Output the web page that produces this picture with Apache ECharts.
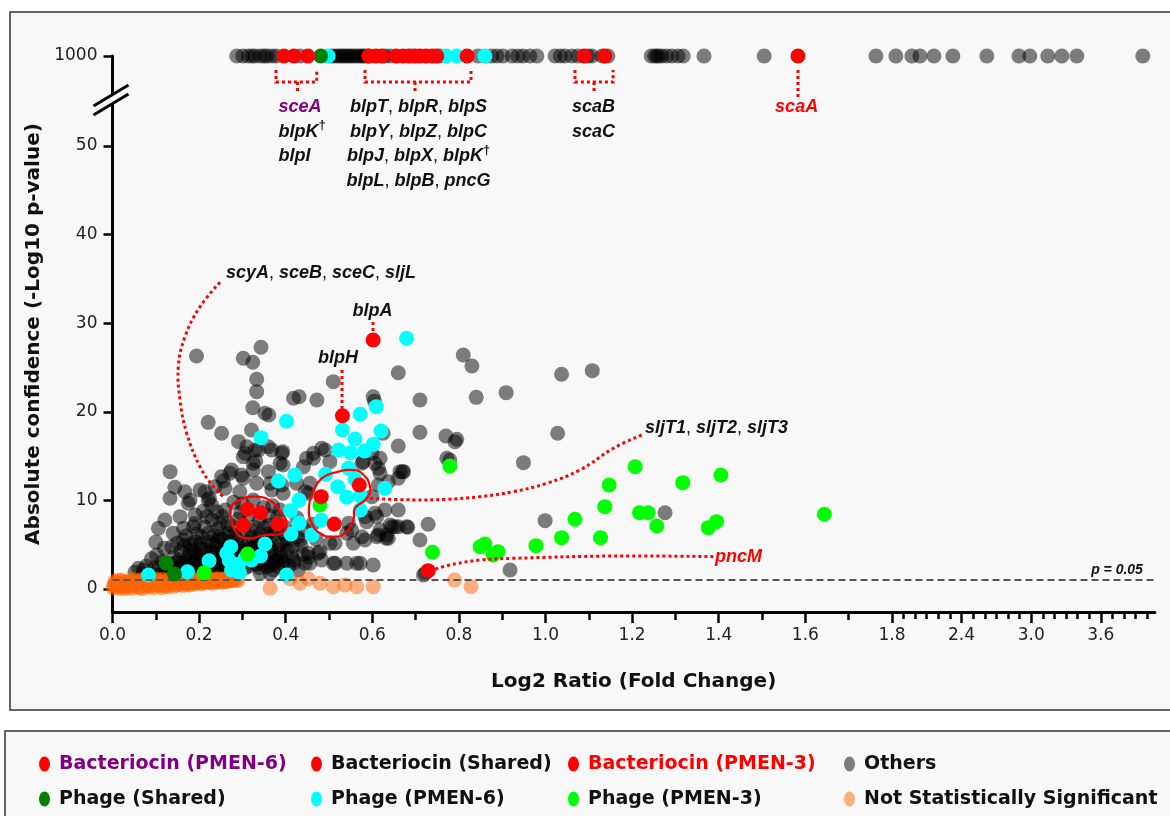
<!DOCTYPE html>
<html>
<head>
<meta charset="utf-8">
<title>Fold change vs confidence</title>
<script src="https://cdn.jsdelivr.net/npm/echarts@6/dist/echarts.min.js"></script>
<style>
  html, body { margin: 0; padding: 0; background: #fff; }
  #main { width: 1170px; height: 816px; }
</style>
</head>
<body>
<div id="main"></div>
<script>
// ---- tick labels ----
var xMajorTicks = [0, 0.2, 0.4, 0.6, 0.8, 1.0, 1.2, 1.4, 1.6, 1.8, 2.4, 3.0, 3.6];
var xMinorTicks = [0.1, 0.3, 0.5, 0.7, 0.9, 1.1, 1.3, 1.5, 1.7];
var xTailTicks = [1.9, 2.0, 2.1, 2.2, 2.3, 2.5, 2.6, 2.7, 2.8, 2.9, 3.1, 3.2, 3.3, 3.4, 3.5, 3.7, 3.8, 3.9, 4.0];
var yTicks = [0, 10, 20, 30, 40, 50, 1000];

// ---- series values: [log2 ratio, -log10 p] (1000 = saturated) ----
var bacPmen6 = [[0.396, 1000]];
var bacShared = [
  [0.419, 1000], [0.451, 1000], [0.592, 1000], [0.608, 1000], [0.622, 1000], [0.655, 1000],
  [0.671, 1000], [0.684, 1000], [0.699, 1000], [0.710, 1000], [0.724, 1000], [0.738, 1000],
  [0.749, 1000], [0.819, 1000], [1.089, 1000], [1.137, 1000],
  [0.602, 28.1], [0.531, 19.56], [0.312, 9.0], [0.342, 8.61], [0.302, 7.19], [0.382, 7.34],
  [0.482, 10.42], [0.570, 11.74], [0.512, 7.34]
];
var bacPmen3 = [[1.583, 1000], [0.729, 2.07]];
var phageShared = [[0.481, 1000], [0.124, 2.9], [0.143, 1.69]];
var phagePmen6 = [
  [0.498, 1000], [0.687, 1000], [0.770, 1000], [0.795, 1000], [0.860, 1000],
  [0.679, 28.3], [0.609, 20.58], [0.572, 19.72], [0.402, 18.93], [0.531, 17.95], [0.620, 17.83],
  [0.560, 16.93], [0.343, 17.08], [0.522, 15.69], [0.550, 15.38], [0.582, 15.58], [0.602, 16.33],
  [0.492, 12.95], [0.421, 12.87], [0.383, 12.19], [0.520, 11.55], [0.541, 10.35], [0.572, 10.5],
  [0.629, 11.37], [0.560, 12.38], [0.545, 13.62], [0.411, 8.84], [0.431, 10.05], [0.431, 7.42],
  [0.482, 7.79], [0.572, 8.92], [0.412, 6.21], [0.461, 6.09], [0.352, 5.08], [0.273, 4.77],
  [0.270, 3.19], [0.291, 2.79], [0.342, 3.72], [0.293, 1.84], [0.223, 3.19], [0.173, 1.95],
  [0.083, 1.58], [0.402, 1.58], [0.275, 2.14], [0.264, 4.03], [0.321, 3.27], [0.306, 3.46]
];
var phagePmen3 = [
  [0.779, 13.88], [1.207, 13.8], [1.405, 12.87], [1.317, 12.0], [1.147, 11.74], [1.137, 9.29],
  [1.068, 7.87], [1.217, 8.61], [1.237, 8.61], [1.257, 7.11], [1.395, 7.6], [1.376, 6.92],
  [1.644, 8.43], [1.037, 5.79], [1.127, 5.79], [0.978, 4.89], [0.849, 4.77], [0.860, 5.08],
  [0.879, 3.84], [0.890, 4.21], [0.739, 4.14], [0.479, 9.48], [0.212, 1.84], [0.312, 3.95]
];
var othersTopX = [
  0.287, 0.301, 0.313, 0.322, 0.329, 0.341, 0.350, 0.357, 0.368, 0.378, 0.433, 0.507, 0.515,
  0.521, 0.527, 0.532, 0.538, 0.544, 0.549, 0.555, 0.561, 0.567, 0.573, 0.578, 0.584, 0.590,
  0.629, 0.641, 0.692, 0.756, 0.844, 0.876, 0.888, 0.902, 0.923, 0.936, 0.948, 0.964, 0.980,
  1.022, 1.034, 1.045, 1.061, 1.075, 1.098, 1.107, 1.131, 1.144, 1.244, 1.252, 1.257, 1.262,
  1.269, 1.280, 1.292, 1.306, 1.318, 1.366, 1.505, 1.763, 1.834, 1.972, 2.041, 2.162, 2.325,
  2.618, 2.894, 2.988, 3.143, 3.264, 3.393, 3.962
];
var others = [
  [0.810, 26.41], [0.830, 25.17], [0.660, 24.41], [1.037, 24.23], [1.108, 24.64], [0.710, 21.33],
  [0.840, 21.63], [0.909, 22.16], [0.710, 17.68], [0.770, 17.27], [0.791, 16.63], [0.795, 16.9],
  [1.028, 17.57], [0.660, 16.14], [0.779, 14.56], [0.949, 14.26], [0.670, 13.24], [0.660, 12.49],
  [0.618, 13.06], [0.660, 8.92], [0.641, 7.22], [0.660, 7.03], [0.682, 6.96], [0.729, 7.30],
  [0.632, 5.72], [0.999, 7.71], [1.276, 8.61], [0.918, 2.14], [0.718, 1.58], [0.625, 17.57],
  [0.194, 26.3], [0.302, 26.04], [0.324, 25.59], [0.343, 27.28], [0.333, 23.67], [0.333, 22.27],
  [0.418, 21.52], [0.431, 21.7], [0.472, 21.33], [0.510, 23.4], [0.602, 21.7], [0.605, 21.2],
  [0.324, 20.46], [0.352, 19.83], [0.361, 19.64], [0.221, 18.81], [0.252, 17.57], [0.291, 16.63],
  [0.310, 16.06], [0.337, 15.69], [0.368, 15.69], [0.393, 15.5], [0.387, 14.19], [0.331, 14.45],
  [0.302, 14.93], [0.325, 13.43], [0.275, 13.43], [0.302, 12.49], [0.256, 12.19], [0.133, 13.24],
  [0.144, 11.48], [0.133, 10.24], [0.175, 9.67], [0.202, 11.17], [0.224, 10.24], [0.237, 11.55],
  [0.106, 6.85], [0.121, 7.79], [0.156, 8.16], [0.164, 6.85], [0.187, 7.03], [0.218, 8.16],
  [0.248, 7.42], [0.206, 5.9], [0.248, 5.9], [0.267, 6.29], [0.102, 3.84], [0.137, 4.77],
  [0.164, 5.53], [0.071, 2.14], [0.394, 6.29], [0.402, 5.16], [0.433, 5.53], [0.387, 4.03],
  [0.364, 2.9], [0.371, 2.14], [0.341, 1.77], [0.479, 4.21], [0.502, 5.16], [0.510, 2.9],
  [0.456, 2.9], [0.564, 2.9], [0.602, 2.71], [0.556, 5.16], [0.576, 5.9], [0.610, 5.9],
  [0.633, 6.09], [0.541, 6.29], [0.545, 7.42], [0.587, 7.6], [0.618, 6.66], [0.645, 7.03],
  [0.664, 13.24], [0.637, 12.11], [0.614, 13.62], [0.618, 14.75], [0.579, 14.37], [0.502, 14.37],
  [0.483, 15.88], [0.464, 14.75], [0.441, 13.8], [0.425, 11.93], [0.452, 10.8], [0.394, 10.8],
  [0.364, 11.93], [0.325, 10.05], [0.387, 8.92], [0.241, 8.72], [0.629, 8.92], [0.610, 8.16],
  [0.679, 7.03], [0.710, 5.53], [0.772, 14.75], [0.722, 1.77],
  [0.060, 2.34], [0.167, 10.98], [0.179, 10.05], [0.214, 10.98], [0.229, 9.48], [0.191, 8.35],
  [0.321, 17.95], [0.306, 15.32], [0.329, 15.69], [0.360, 16.06], [0.391, 15.32], [0.394, 14.0],
  [0.360, 13.24], [0.325, 14.19], [0.298, 12.87], [0.271, 13.06], [0.252, 12.68], [0.333, 11.93],
  [0.294, 10.98], [0.260, 11.37], [0.221, 10.05], [0.368, 11.17], [0.391, 11.74], [0.448, 14.75],
  [0.464, 15.32], [0.491, 15.69], [0.456, 11.93], [0.445, 10.98], [0.672, 13.24], [0.652, 7.03],
  [0.606, 8.54], [0.614, 6.09], [0.637, 5.72], [0.583, 5.53], [0.572, 2.9], [0.541, 2.9],
  [0.514, 2.9], [0.483, 3.27], [0.452, 4.03], [0.514, 5.16], [0.552, 6.66], [0.583, 8.16],
  [0.599, 10.42], [0.614, 11.74], [0.576, 14.19], [0.606, 14.19], [0.599, 15.32], [0.429, 2.14],
  [0.445, 2.9], [0.475, 4.03], [0.383, 2.52], [0.364, 1.77], [0.414, 3.65],
  [0.052, 1.9], [0.078, 2.6], [0.094, 1.7], [0.108, 2.4], [0.115, 3.1], [0.126, 1.9], [0.134, 2.8],
  [0.142, 3.6], [0.151, 2.2], [0.158, 4.3], [0.163, 3.0], [0.171, 1.8], [0.176, 3.7], [0.182, 2.5],
  [0.186, 4.6], [0.193, 3.2], [0.198, 2.0], [0.203, 5.1], [0.207, 3.8], [0.212, 2.6], [0.216, 4.4],
  [0.222, 6.3], [0.226, 3.1], [0.231, 5.0], [0.236, 2.2], [0.239, 4.1], [0.244, 6.8], [0.248, 3.5],
  [0.252, 5.6], [0.257, 2.7], [0.261, 4.6], [0.265, 7.4], [0.268, 3.3], [0.273, 5.3], [0.277, 2.1],
  [0.282, 6.1], [0.286, 4.1], [0.291, 7.9], [0.294, 3.0], [0.298, 5.1], [0.303, 6.6], [0.307, 2.4],
  [0.311, 4.4], [0.316, 8.4], [0.319, 3.4], [0.323, 5.8], [0.328, 7.0], [0.332, 2.8], [0.336, 4.8],
  [0.341, 6.2], [0.345, 3.6], [0.349, 9.2], [0.353, 5.4], [0.357, 2.5], [0.361, 7.2], [0.366, 4.2],
  [0.371, 6.0], [0.376, 3.2], [0.381, 8.1], [0.386, 5.0], [0.392, 2.7], [0.398, 7.0], [0.404, 4.4],
  [0.412, 6.2], [0.418, 3.3], [0.426, 8.0], [0.435, 4.9], [0.443, 6.7], [0.452, 3.6], [0.462, 7.3],
  [0.470, 5.6], [0.150, 5.2], [0.170, 6.0], [0.190, 7.4], [0.210, 8.8], [0.180, 5.0], [0.230, 7.8],
  [0.260, 8.9], [0.280, 9.8], [0.300, 9.6], [0.270, 5.9], [0.290, 2.6], [0.310, 3.5], [0.330, 4.9],
  [0.350, 6.9], [0.370, 9.4], [0.120, 4.6], [0.140, 6.3], [0.100, 5.3], [0.090, 3.4], [0.070, 1.6],
  [0.240, 1.6], [0.260, 2.0], [0.210, 1.6], [0.190, 2.9], [0.160, 1.6], [0.130, 1.5], [0.110, 1.6],
  [0.145, 2.4], [0.168, 2.7], [0.188, 3.9], [0.201, 2.9], [0.218, 3.4], [0.229, 4.2], [0.243, 2.9],
  [0.255, 3.8], [0.271, 4.5], [0.284, 3.5], [0.296, 4.6], [0.313, 5.3], [0.327, 3.9], [0.339, 2.4],
  [0.347, 4.4], [0.358, 3.5], [0.368, 5.1], [0.378, 6.6], [0.389, 3.6], [0.401, 5.6], [0.415, 4.8],
  [0.428, 5.9], [0.440, 3.9], [0.195, 6.2], [0.213, 7.0], [0.235, 6.0], [0.253, 8.2], [0.275, 7.1],
  [0.296, 8.6], [0.318, 6.6], [0.339, 7.8], [0.360, 8.3], [0.155, 3.3], [0.122, 2.6], [0.098, 2.4],
  [0.138, 2.1], [0.147, 3.0], [0.161, 2.4], [0.174, 3.2], [0.184, 2.1], [0.196, 3.6], [0.205, 2.3],
  [0.215, 3.0], [0.224, 2.5], [0.233, 3.6], [0.246, 2.4], [0.259, 3.2], [0.263, 2.3], [0.279, 2.8],
  [0.288, 3.3], [0.301, 2.9], [0.315, 2.6], [0.329, 3.1], [0.344, 2.9], [0.355, 3.1], [0.367, 2.7],
  [0.381, 3.3], [0.395, 3.0], [0.408, 2.6], [0.421, 3.0], [0.205, 4.5], [0.221, 5.3], [0.238, 5.1],
  [0.256, 4.3], [0.279, 4.8], [0.301, 4.0], [0.321, 4.6], [0.343, 5.0], [0.362, 4.7], [0.384, 4.4],
  [0.179, 4.3], [0.192, 5.3], [0.166, 4.9], [0.243, 5.4], [0.289, 5.6], [0.334, 5.6], [0.357, 6.2]
];
var notSig = [
  [0.002, 0.1], [0.004, 0.5], [0.006, 0.9], [0.010, 0.25], [0.013, 0.65], [0.017, 0.05],
  [0.020, 1.0], [0.024, 0.4], [0.028, 0.12], [0.031, 0.75], [0.035, 0.3], [0.039, 0.95],
  [0.042, 0.55], [0.046, 0.08], [0.050, 0.35], [0.054, 0.8], [0.058, 0.2], [0.062, 0.6],
  [0.066, 1.0], [0.070, 0.05], [0.074, 0.45], [0.078, 0.75], [0.082, 0.25], [0.086, 0.9],
  [0.090, 0.5], [0.094, 0.15], [0.098, 0.7], [0.102, 1.0], [0.106, 0.35], [0.110, 0.6],
  [0.114, 0.15], [0.118, 0.85], [0.122, 0.4], [0.126, 0.75], [0.130, 0.25], [0.134, 0.95],
  [0.138, 0.55], [0.142, 0.3], [0.146, 0.8], [0.150, 0.45], [0.154, 1.0], [0.158, 0.65],
  [0.162, 0.4], [0.166, 0.9], [0.170, 0.6], [0.174, 0.8], [0.178, 0.45], [0.182, 1.0],
  [0.186, 0.7], [0.190, 0.55], [0.194, 0.85], [0.198, 0.7], [0.202, 0.95], [0.206, 0.6],
  [0.210, 0.85], [0.214, 0.7], [0.218, 1.0], [0.222, 0.75], [0.226, 0.9], [0.230, 0.65],
  [0.234, 1.0], [0.238, 0.8], [0.242, 0.95], [0.246, 0.75], [0.250, 1.0], [0.254, 0.85],
  [0.258, 0.8], [0.262, 0.95], [0.266, 0.85], [0.270, 1.0], [0.276, 0.9], [0.282, 1.0],
  [0.290, 0.95],
  [0.003, 0.3], [0.008, 0.75], [0.012, 0.45], [0.015, 0.95], [0.019, 0.2], [0.022, 0.7],
  [0.026, 0.85], [0.030, 0.5], [0.033, 0.1], [0.037, 0.6], [0.041, 0.85], [0.044, 0.3],
  [0.048, 1.1], [0.052, 0.65], [0.056, 0.4], [0.060, 0.9], [0.064, 0.15], [0.068, 0.7],
  [0.072, 1.1], [0.076, 0.3], [0.080, 0.6], [0.084, 1.0], [0.088, 0.35], [0.092, 0.8],
  [0.096, 0.45], [0.100, 1.15], [0.104, 0.6], [0.108, 0.9], [0.112, 0.4], [0.116, 1.1],
  [0.120, 0.7], [0.124, 0.3], [0.128, 1.05], [0.132, 0.6], [0.136, 0.8], [0.140, 1.1],
  [0.144, 0.5], [0.148, 0.95], [0.152, 0.7], [0.156, 1.15], [0.160, 0.55], [0.164, 0.75],
  [0.168, 1.1], [0.172, 0.5], [0.176, 1.0], [0.180, 0.7], [0.184, 0.9], [0.188, 1.15],
  [0.192, 0.75], [0.196, 1.0], [0.200, 0.8], [0.204, 1.1], [0.208, 0.9], [0.212, 1.15],
  [0.216, 0.85], [0.220, 0.95], [0.224, 1.15], [0.228, 0.8], [0.232, 0.95], [0.236, 1.1],
  [0.240, 0.9], [0.244, 1.15], [0.248, 0.9], [0.252, 1.1], [0.256, 0.95], [0.260, 1.15],
  [0.264, 0.9], [0.268, 1.1], [0.272, 0.95], [0.279, 1.15], [0.286, 1.0],
  [0.790, 1.0], [0.828, 0.26], [0.364, 0.08], [0.452, 1.15], [0.537, 0.45], [0.564, 0.26],
  [0.602, 0.26], [0.410, 1.15], [0.433, 0.64], [0.479, 0.64], [0.510, 0.26]
];

// ---- scale helpers: x axis is compressed past 1.8, y axis is broken above 50 ----
var X_BREAK = 1.8, X_SQUEEZE = 0.268, Y_TOP = 60.16;
function tx(x) { return x <= X_BREAK ? x : X_BREAK + (x - X_BREAK) * X_SQUEEZE; }
function untx(t) { return t <= X_BREAK + 1e-9 ? t : X_BREAK + (t - X_BREAK) / X_SQUEEZE; }
function ty(y) { return y >= 1000 ? Y_TOP : y; }
function pts(arr) { return arr.map(function (p) { return [tx(p[0]), ty(p[1])]; }); }

var XMAX = tx(4.066);
var BG = '#f8f8f8';

function dots(name, arr, color, z) {
  return {
    name: name, type: 'scatter', data: pts(arr), symbolSize: 15,
    itemStyle: { color: color, opacity: 1 }, z: z, clip: false, silent: true
  };
}

var ellipse = 'path://M0,7.5A5.5,7.5,0,1,1,11,7.5A5.5,7.5,0,1,1,0,7.5Z';
function legendCol(left, items) {
  return {
    left: left, top: 748, orient: 'vertical', itemGap: 13, icon: ellipse,
    itemWidth: 11, itemHeight: 15, selectedMode: false, data: items,
    textStyle: {
      fontFamily: 'DejaVu Sans', fontWeight: 'bold', fontSize: 19, color: '#111',
      padding: [0, 0, 0, 4], lineHeight: 22
    }
  };
}

var chart = echarts.init(document.getElementById('main'));

var tickLine = { color: '#000', width: 2.5 };
var option = {
  backgroundColor: '#ffffff',
  animation: false,
  grid: { left: 112.5, right: 15.1, top: 56, bottom: 204 },
  xAxis: [
    {
      type: 'value', min: 0, max: XMAX, position: 'bottom',
      axisLine: { onZero: false, lineStyle: { color: '#000', width: 3 } },
      axisTick: { customValues: xMajorTicks.map(tx), length: 11, lineStyle: tickLine },
      axisLabel: {
        customValues: xMajorTicks.map(tx),
        formatter: function (v) { return untx(v).toFixed(1); },
        fontFamily: 'DejaVu Sans', fontSize: 17, color: '#222', margin: 15
      },
      splitLine: { show: false },
      name: 'Log2 Ratio (Fold Change)', nameLocation: 'middle', nameGap: 60,
      nameTextStyle: { fontFamily: 'DejaVu Sans', fontWeight: 'bold', fontSize: 20, color: '#111' }
    },
    {
      type: 'value', min: 0, max: XMAX, position: 'bottom',
      axisLine: { show: false, onZero: false },
      axisTick: { customValues: xMinorTicks.map(tx), length: 8, lineStyle: tickLine },
      axisLabel: { show: false }, splitLine: { show: false }
    },
    {
      type: 'value', min: 0, max: XMAX, position: 'bottom',
      axisLine: { show: false, onZero: false },
      axisTick: { customValues: xTailTicks.map(tx), length: 7, lineStyle: tickLine },
      axisLabel: { show: false }, splitLine: { show: false }
    }
  ],
  yAxis: {
    type: 'value', min: -2.6, max: Y_TOP,
    axisLine: { show: true, onZero: false, lineStyle: { color: '#000', width: 3 } },
    axisTick: { show: true, customValues: yTicks.map(ty), length: 9, lineStyle: tickLine },
    axisLabel: {
      customValues: yTicks.map(ty),
      formatter: function (v) { return v > 55 ? '1000' : String(Math.round(v)); },
      fontFamily: 'DejaVu Sans', fontSize: 17, color: '#222', margin: 15
    },
    splitLine: { show: false },
    name: 'Absolute confidence (-Log10 p-value)', nameLocation: 'middle', nameGap: 41,
    nameTextStyle: { fontFamily: 'DejaVu Sans', fontWeight: 'bold', fontSize: 20, color: '#111' }
  },
  legend: [
    legendCol(34, [{ name: 'Bacteriocin (PMEN-6)', textStyle: { color: '#800080' } }, 'Phage (Shared)']),
    legendCol(306, ['Bacteriocin (Shared)', 'Phage (PMEN-6)']),
    legendCol(563, [{ name: 'Bacteriocin (PMEN-3)', textStyle: { color: '#ff0000' } }, 'Phage (PMEN-3)']),
    legendCol(839, ['Others', 'Not Statistically Significant'])
  ],
  series: [
    dots('Others', others.concat(othersTopX.map(function (x) { return [x, 1000]; })), 'rgba(0,0,0,0.5)', 2),
    dots('Not Statistically Significant', notSig, 'rgba(255,102,0,0.5)', 3),
    {
      name: 'threshold', type: 'line', data: [], z: 3.5, silent: true,
      markLine: {
        silent: true, symbol: 'none', animation: false,
        lineStyle: { color: '#555', type: [7, 4], width: 2 },
        label: {
          show: true, position: 'insideEndTop', formatter: 'p = 0.05', distance: [12, 3],
          fontFamily: 'Liberation Sans', fontWeight: 'bold', fontStyle: 'italic', fontSize: 14, color: '#111'
        },
        data: [{ yAxis: 1.0 }]
      }
    },
    dots('Phage (PMEN-6)', phagePmen6, '#00ffff', 4),
    dots('Phage (PMEN-3)', phagePmen3, '#00ff00', 5),
    dots('Phage (Shared)', phageShared, '#008000', 6),
    dots('Bacteriocin (Shared)', bacShared, '#ff0000', 7),
    dots('Bacteriocin (PMEN-6)', bacPmen6, '#ff0000', 7),
    dots('Bacteriocin (PMEN-3)', bacPmen3, '#ff0000', 7)
  ]
};
chart.setOption(option);

// ---- annotations, placed in axis units ----
function px(p) { return chart.convertToPixel({ gridIndex: 0 }, p); }

var font = 'Liberation Sans';
var rich = {
  g: { fontFamily: font, fontSize: 18, fontWeight: 'bold', fontStyle: 'italic', fill: '#111', lineHeight: 24.5 },
  c: { fontFamily: font, fontSize: 18, fill: '#111', lineHeight: 24.5 },
  p: { fontFamily: font, fontSize: 18, fontWeight: 'bold', fontStyle: 'italic', fill: '#800080', lineHeight: 24.5 },
  r: { fontFamily: font, fontSize: 18, fontWeight: 'bold', fontStyle: 'italic', fill: '#ff0000', lineHeight: 24.5 },
  d: { fontFamily: font, fontSize: 13, fontWeight: 'bold', fill: '#111', verticalAlign: 'top' }
};

var notes = [
  { at: [0.3834, 55.78], align: 'left', va: 'top', text: '{p|sceA}\n{g|blpK}{d|†}\n{g|blpI}' },
  { at: [0.7067, 55.78], align: 'center', va: 'top',
    text: '{g|blpT}{c|, }{g|blpR}{c|, }{g|blpS}\n{g|blpY}{c|, }{g|blpZ}{c|, }{g|blpC}\n{g|blpJ}{c|, }{g|blpX}{c|, }{g|blpK}{d|†}\n{g|blpL}{c|, }{g|blpB}{c|, }{g|pncG}' },
  { at: [1.1109, 55.78], align: 'center', va: 'top', text: '{g|scaB}\n{g|scaC}' },
  { at: [1.5799, 55.78], align: 'center', va: 'top', text: '{r|scaA}' },
  { at: [0.2621, 35.63], align: 'left', va: 'middle', text: '{g|scyA}{c|, }{g|sceB}{c|, }{g|sceC}{c|, }{g|sljL}' },
  { at: [0.6005, 31.38], align: 'center', va: 'middle', text: '{g|blpA}' },
  { at: [0.5208, 26.07], align: 'center', va: 'middle', text: '{g|blpH}' },
  { at: [1.2298, 18.14], align: 'left', va: 'middle', text: '{g|sljT1}{c|, }{g|sljT2}{c|, }{g|sljT3}' },
  { at: [1.3915, 3.65], align: 'left', va: 'middle', text: '{r|pncM}' }
];

var connectors = [
  { smooth: 0, line: [[0.3776, 58.58], [0.3776, 57.22], [0.4716, 57.22], [0.4716, 58.58]] },
  { smooth: 0, line: [[0.4273, 57.22], [0.4273, 55.87]] },
  { smooth: 0, line: [[0.5831, 58.58], [0.5831, 57.22], [0.8279, 57.22], [0.8279, 58.58]] },
  { smooth: 0, line: [[0.6986, 57.22], [0.6986, 55.87]] },
  { smooth: 0, line: [[1.068, 58.58], [1.068, 57.22], [1.156, 57.22], [1.156, 58.58]] },
  { smooth: 0, line: [[1.112, 57.22], [1.112, 55.87]] },
  { smooth: 0, line: [[1.583, 58.58], [1.583, 55.42]] },
  { smooth: 0, line: [[0.6016, 30.14], [0.6016, 28.89]] },
  { smooth: 0, line: [[0.530, 24.72], [0.530, 20.2]] },
  { smooth: 0.4, line: [[0.2483, 34.62], [0.2021, 31.86], [0.1674, 28.48], [0.152, 25.09], [0.1559, 21.33],
    [0.1714, 17.57], [0.2021, 13.8], [0.2328, 11.55], [0.2598, 10.24]] },
  { smooth: 0.4, line: [[1.222, 17.38], [1.1566, 15.88], [1.0797, 13.43], [1.0028, 11.93], [0.9256, 10.98],
    [0.8487, 10.42], [0.7718, 10.12], [0.6947, 10.05], [0.5871, 10.24]] },
  { smooth: 0.4, line: [[1.3875, 3.65], [1.1566, 3.72], [0.9256, 3.46], [0.8487, 3.27], [0.7718, 2.63], [0.7409, 2.14]] }
];

var loops = [
  [[0.2737, 9.22], [0.2945, 10.05], [0.3330, 10.42], [0.3677, 9.85], [0.3908, 8.54], [0.4023, 7.41],
   [0.3908, 6.28], [0.3522, 6.09], [0.3136, 5.72], [0.2869, 6.28], [0.2753, 7.79]],
  [[0.4637, 10.98], [0.4831, 12.49], [0.5215, 13.24], [0.5524, 13.43], [0.5755, 13.06], [0.5947, 11.55],
   [0.5871, 10.24], [0.5601, 9.11], [0.5561, 7.79], [0.5370, 6.29], [0.5062, 5.90], [0.4792, 6.29],
   [0.4600, 7.42], [0.4538, 9.29]]
];

var graphics = [
  { type: 'rect', z: -10, silent: true, shape: { x: 10, y: 12, width: 1180, height: 698 },
    style: { fill: BG, stroke: '#333', lineWidth: 1.5 } },
  { type: 'rect', z: -10, silent: true, shape: { x: 5, y: 731, width: 1190, height: 100 },
    style: { fill: BG, stroke: '#333', lineWidth: 1.5 } }
];

notes.forEach(function (n) {
  var p = px(n.at);
  graphics.push({
    type: 'text', x: p[0], y: p[1], z: 50, silent: true,
    style: { text: n.text, rich: rich, align: n.align, verticalAlign: n.va, fill: '#111',
      fontFamily: font, fontSize: 18 }
  });
});

connectors.forEach(function (c) {
  graphics.push({
    type: 'polyline', z: 40, silent: true,
    shape: { points: c.line.map(px), smooth: c.smooth },
    style: { stroke: '#ff0000', lineWidth: 3, lineDash: [3, 3], fill: null }
  });
});

loops.forEach(function (l) {
  graphics.push({
    type: 'polygon', z: 40, silent: true,
    shape: { points: l.map(px), smooth: 0.5 },
    style: { stroke: '#ff0000', lineWidth: 2.2, fill: null }
  });
});

// y-axis break marks
var bp = px([0, 55.3]);
graphics.push({ type: 'rect', z: 45, silent: true,
  shape: { x: bp[0] - 3, y: bp[1] - 4, width: 6, height: 8 }, style: { fill: BG } });
[-4.5, 4.5].forEach(function (off) {
  graphics.push({
    type: 'line', z: 46, silent: true,
    shape: { x1: bp[0] - 19, y1: bp[1] + off + 11.4, x2: bp[0] + 16, y2: bp[1] + off - 9.6 },
    style: { stroke: '#000', lineWidth: 3 }
  });
});

chart.setOption({ graphic: graphics });
</script>
</body>
</html>
